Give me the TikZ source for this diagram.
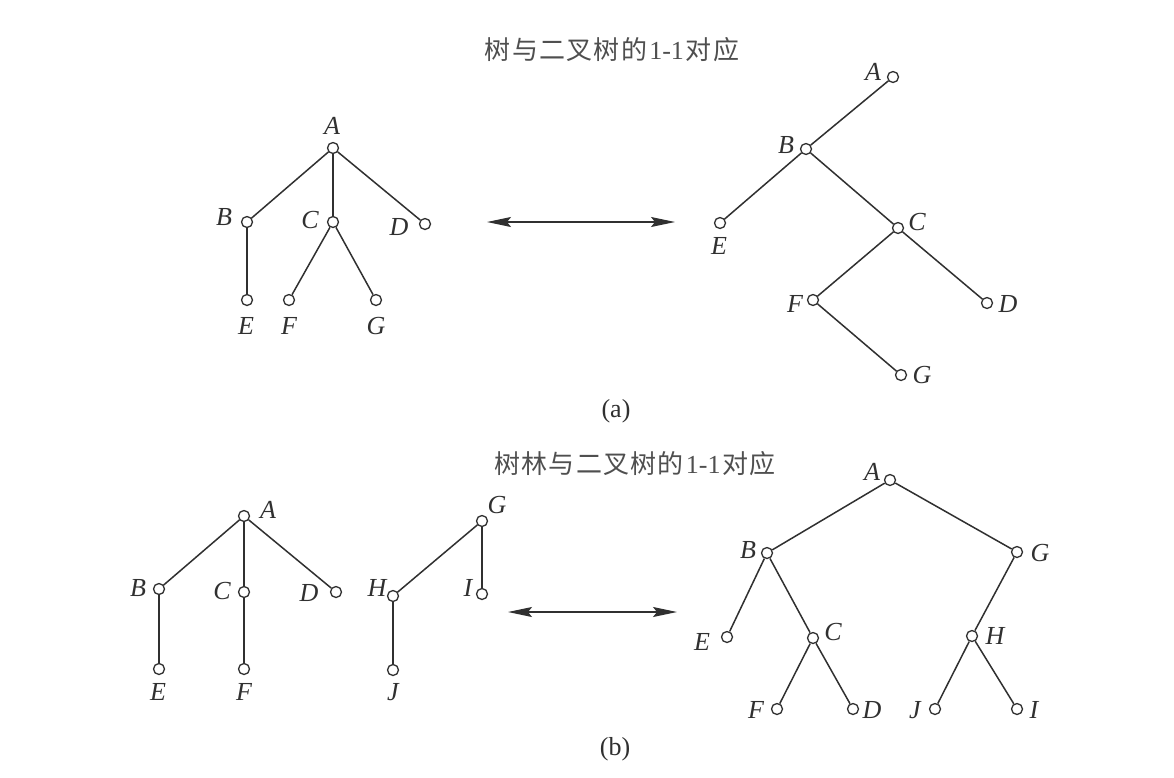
\documentclass[tikz,border=0pt]{standalone}
\usepackage{fontspec}
\setmainfont{Liberation Serif}
\newfontfamily\cjk[LetterSpace=5]{Noto Sans CJK SC}
\usetikzlibrary{arrows.meta}
\definecolor{ink}{HTML}{303030}
\begin{document}
\begin{tikzpicture}[x=1pt,y=-1pt,
 vtx/.style={circle,draw=ink,line width=1.3pt,minimum size=11pt,inner sep=0pt,fill=white},
 edge/.style={draw=ink,line width=1.5pt},
 lbl/.style={text=ink,inner sep=0pt,font=\fontsize{26}{26}\selectfont\itshape},
 ttl/.style={text=ink!85,inner sep=0pt,font=\fontsize{26}{26}\selectfont\cjk},
 subcap/.style={text=ink,inner sep=0pt,font=\fontsize{26}{26}\selectfont},
 biarrow/.style={draw=ink,line width=1.2pt,{Stealth[length=24pt,width=10pt,inset=4pt]}-{Stealth[length=24pt,width=10pt,inset=4pt]}}]
\fill[white] (0,0) rectangle (1174,777);
\useasboundingbox (0,0) rectangle (1174,777);

% ---------- (a) ----------
\node[ttl] (ta) at (612,50) {树与二叉树的\hspace{2pt}{\rmfamily 1-1}\hspace{2pt}对应};

% left tree
\node[vtx] (aA) at (333,148) {};
\node[vtx] (aB) at (247,222) {};
\node[vtx] (aC) at (333,222) {};
\node[vtx] (aD) at (425,224) {};
\node[vtx] (aE) at (247,300) {};
\node[vtx] (aF) at (289,300) {};
\node[vtx] (aG) at (376,300) {};
\draw[edge] (aA) -- (aB);
\draw[edge] (aA) -- (aC);
\draw[edge] (aA) -- (aD);
\draw[edge] (aB) -- (aE);
\draw[edge] (aC) -- (aF);
\draw[edge] (aC) -- (aG);
\node[lbl] (aAl) at (332,126) {A};
\node[lbl] (aBl) at (224,217) {B};
\node[lbl] (aCl) at (310,220) {C};
\node[lbl] (aDl) at (399,227) {D};
\node[lbl] (aEl) at (246,326) {E};
\node[lbl] (aFl) at (289,326) {F};
\node[lbl] (aGl) at (376,326) {G};

% arrow
\coordinate (aL) at (487,222);
\coordinate (aR) at (675,222);
\draw[biarrow] (aL) -- (aR);

% right binary tree
\node[vtx] (bA) at (893,77) {};
\node[vtx] (bB) at (806,149) {};
\node[vtx] (bE) at (720,223) {};
\node[vtx] (bC) at (898,228) {};
\node[vtx] (bF) at (813,300) {};
\node[vtx] (bD) at (987,303) {};
\node[vtx] (bG) at (901,375) {};
\draw[edge] (bA) -- (bB);
\draw[edge] (bB) -- (bE);
\draw[edge] (bB) -- (bC);
\draw[edge] (bC) -- (bF);
\draw[edge] (bC) -- (bD);
\draw[edge] (bF) -- (bG);
\node[lbl] (bAl) at (873,72) {A};
\node[lbl] (bBl) at (786,145) {B};
\node[lbl] (bEl) at (719,246) {E};
\node[lbl] (bCl) at (917,222) {C};
\node[lbl] (bFl) at (795,304) {F};
\node[lbl] (bDl) at (1008,304) {D};
\node[lbl] (bGl) at (922,375) {G};

\node[subcap] (capa) at (616,411) {(a)};

% ---------- (b) ----------
\node[ttl] (tb) at (635,464) {树林与二叉树的\hspace{2pt}{\rmfamily 1-1}\hspace{2pt}对应};

% forest
\node[vtx] (cA) at (244,516) {};
\node[vtx] (cB) at (159,589) {};
\node[vtx] (cC) at (244,592) {};
\node[vtx] (cD) at (336,592) {};
\node[vtx] (cE) at (159,669) {};
\node[vtx] (cF) at (244,669) {};
\node[vtx] (cG) at (482,521) {};
\node[vtx] (cH) at (393,596) {};
\node[vtx] (cI) at (482,594) {};
\node[vtx] (cJ) at (393,670) {};
\draw[edge] (cA) -- (cB);
\draw[edge] (cA) -- (cC);
\draw[edge] (cA) -- (cD);
\draw[edge] (cB) -- (cE);
\draw[edge] (cC) -- (cF);
\draw[edge] (cG) -- (cH);
\draw[edge] (cG) -- (cI);
\draw[edge] (cH) -- (cJ);
\node[lbl] (cAl) at (268,510) {A};
\node[lbl] (cBl) at (138,588) {B};
\node[lbl] (cCl) at (222,591) {C};
\node[lbl] (cDl) at (309,593) {D};
\node[lbl] (cEl) at (158,692) {E};
\node[lbl] (cFl) at (244,692) {F};
\node[lbl] (cGl) at (497,505) {G};
\node[lbl] (cHl) at (377,588) {H};
\node[lbl] (cIl) at (468,588) {I};
\node[lbl] (cJl) at (393,692) {J};

% arrow
\coordinate (bL) at (508,612);
\coordinate (bR) at (677,612);
\draw[biarrow] (bL) -- (bR);

% binary tree
\node[vtx] (dA) at (890,480) {};
\node[vtx] (dB) at (767,553) {};
\node[vtx] (dG) at (1017,552) {};
\node[vtx] (dE) at (727,637) {};
\node[vtx] (dC) at (813,638) {};
\node[vtx] (dH) at (972,636) {};
\node[vtx] (dF) at (777,709) {};
\node[vtx] (dD) at (853,709) {};
\node[vtx] (dJ) at (935,709) {};
\node[vtx] (dI) at (1017,709) {};
\draw[edge] (dA) -- (dB);
\draw[edge] (dA) -- (dG);
\draw[edge] (dB) -- (dE);
\draw[edge] (dB) -- (dC);
\draw[edge] (dC) -- (dF);
\draw[edge] (dC) -- (dD);
\draw[edge] (dG) -- (dH);
\draw[edge] (dH) -- (dJ);
\draw[edge] (dH) -- (dI);
\node[lbl] (dAl) at (872,472) {A};
\node[lbl] (dBl) at (748,550) {B};
\node[lbl] (dGl) at (1040,553) {G};
\node[lbl] (dEl) at (702,642) {E};
\node[lbl] (dCl) at (833,632) {C};
\node[lbl] (dHl) at (995,636) {H};
\node[lbl] (dFl) at (756,710) {F};
\node[lbl] (dDl) at (872,710) {D};
\node[lbl] (dJl) at (915,710) {J};
\node[lbl] (dIl) at (1034,710) {I};

\node[subcap] (capb) at (615,749) {(b)};
\end{tikzpicture}
\end{document}
